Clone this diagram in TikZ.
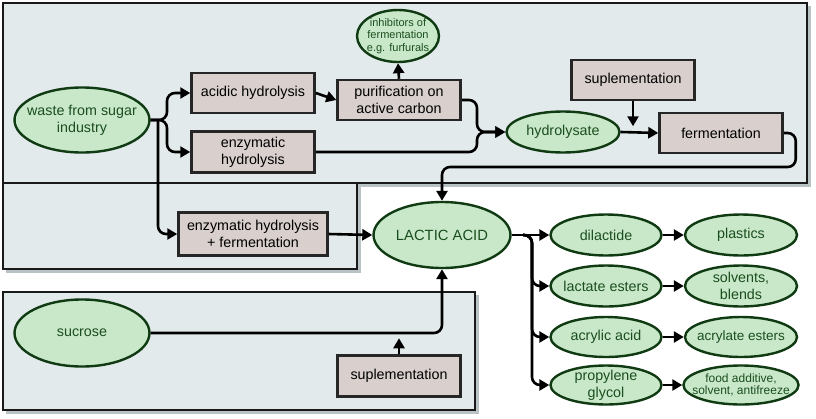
\documentclass[tikz,border=0pt]{standalone}
\usepackage{fontspec}
\setmainfont{Liberation Sans}
\usetikzlibrary{arrows.meta,shapes.geometric,calc}
\definecolor{panelfill}{HTML}{E3EAEC}
\definecolor{boxfill}{HTML}{D9D0CD}
\definecolor{ellfill}{HTML}{C9E8C9}
\definecolor{elldraw}{HTML}{0F3A12}
\definecolor{elltext}{HTML}{1A4E1E}
\definecolor{shadowc}{HTML}{B9C2C4}
\begin{document}
\begin{tikzpicture}[x=1pt,y=-1pt,
  panel/.style={draw=black!90, line width=2.6pt, fill=panelfill},
  shadowbox/.style={fill=shadowc, draw=none},
  procbox/.style={draw=black!85, line width=2.5pt, fill=boxfill, minimum width=123pt, minimum height=40pt, inner sep=1pt, align=center, font=\fontsize{14.3}{17}\selectfont},
  oval/.style={ellipse, draw=elldraw, line width=2.4pt, fill=ellfill, text=elltext, inner sep=-8pt, align=center, font=\fontsize{14.3}{17}\selectfont},
  smalltext/.style={font=\fontsize{12}{12.5}\selectfont},
  conn/.style={line width=2.6pt, -{Triangle[length=10pt,width=11pt]}, rounded corners=8pt},
  plainline/.style={line width=2.6pt, rounded corners=8pt}]
\useasboundingbox (0,0) rectangle (816,418);
% panels
\fill[shadowbox] (6,6) rectangle (811,187);
\fill[shadowbox] (6,186) rectangle (361,273);
\fill[shadowbox] (6,295) rectangle (479,414);
\draw[panel] (3,3) rectangle (807,183);
\draw[panel] (3,183) rectangle (357,269);
\draw[panel] (3,292) rectangle (475,410);
% nodes
\node[oval, minimum width=135pt, minimum height=65pt] (waste) at (82,120) {waste from sugar\\industry};
\node[procbox] (acid) at (253,93) {acidic hydrolysis};
\node[procbox, minimum height=41pt] (enz) at (253,152) {enzymatic\\hydrolysis};
\node[procbox] (pur) at (399,100) {purification on\\active carbon};
\node[oval, minimum width=82pt, minimum height=52pt, font=\fontsize{11}{12.5}\selectfont] (inh) at (398,36) {inhibitors of\\fermentation\\e.g. furfurals};
\node[oval, minimum width=113pt, minimum height=41pt] (hyd) at (563,132) {hydrolysate};
\node[procbox] (sup1) at (633,80) {suplementation};
\node[procbox] (ferm) at (721,133) {fermentation};
\node[procbox, minimum width=149pt, minimum height=43pt] (ehf) at (253,234) {enzymatic hydrolysis\\+ fermentation};
\node[oval, minimum width=137pt, minimum height=66pt, font=\fontsize{14.8}{17}\selectfont] (lac) at (442,235) {LACTIC ACID};
\node[oval, minimum width=135pt, minimum height=67pt] (suc) at (82,333) {sucrose};
\node[procbox, minimum height=41pt] (sup2) at (399,376) {suplementation};
\node[oval, minimum width=111pt, minimum height=41pt] (dil) at (606,235) {dilactide};
\node[oval, minimum width=111pt, minimum height=41pt] (lact) at (606,286) {lactate esters};
\node[oval, minimum width=111pt, minimum height=40pt] (acry) at (606,337) {acrylic acid};
\node[oval, minimum width=111pt, minimum height=39pt] (prop) at (606,385) {propylene\\glycol};
\node[oval, minimum width=112pt, minimum height=41pt] (pla) at (741,235) {plastics};
\node[oval, minimum width=112pt, minimum height=41pt] (solv) at (741,286) {solvents,\\blends};
\node[oval, minimum width=112pt, minimum height=40pt, font=\fontsize{13.5}{17}\selectfont] (acre) at (741,337) {acrylate esters};
\node[oval, smalltext, minimum width=112pt, minimum height=39pt] (food) at (741,385) {food additive,\\solvent, antifreeze};
% junction coordinates
\coordinate (wj) at (158,120);
\coordinate (lj) at (523,235);
% connectors
\draw[conn] (waste.east) -- (167,120) |- (acid.west);
\draw[conn] (waste.east) -- (167,120) |- (enz.west);
\draw[conn] (wj) |- (ehf.west);
\draw[conn] (acid.east) -- (pur.west);
\draw[conn, rounded corners=0pt] (pur.north) -- (inh.south);
\draw[conn] (pur.east) -- (477,100) |- (hyd.west);
\draw[conn] (enz.east) -- (477,152) |- (hyd.west);
\draw[conn] (hyd.east) -- (ferm.west);
\draw[conn] (sup1.south) -- ++(0,25);
\draw[conn] (ferm.east) -- ++(12,0) |- (lac.north |- 0,167) -- (lac.north);
\draw[conn] (ehf.east) -- (lac.west);
\draw[conn] (suc.east) -| (lac.south);
\draw[conn] (sup2.north) -- ++(0,-16);
\draw[conn] (lac.east) -- (dil.west);
\draw[conn] (lj) -- ++(9,0) |- (lact.west);
\draw[conn] (lj) -- ++(9,0) |- (acry.west);
\draw[conn] (lj) -- ++(9,0) |- (prop.west);
\draw[conn] (dil.east) -- (pla.west);
\draw[conn] (lact.east) -- (solv.west);
\draw[conn] (acry.east) -- (acre.west);
\draw[conn] (prop.east) -- (food.west);
\end{tikzpicture}
\end{document}
